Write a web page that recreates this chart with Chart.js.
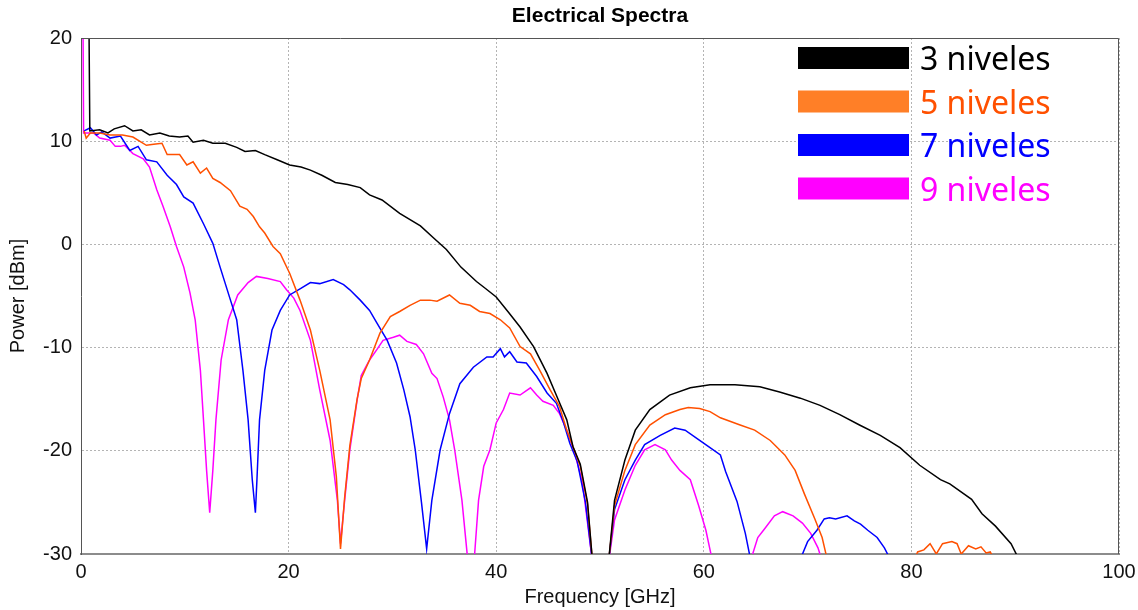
<!DOCTYPE html>
<html>
<head>
<meta charset="utf-8">
<title>Electrical Spectra</title>
<script src="https://cdn.jsdelivr.net/npm/chart.js@4.4.1/dist/chart.umd.min.js"></script>
<style>
  html, body { margin: 0; padding: 0; background: #fff; }
  #wrap { width: 1138px; height: 610px; }
</style>
</head>
<body>
<div id="wrap"><canvas id="spectraChart" width="1138" height="610"></canvas></div>
<script>
// Series names (legend)
const seriesNames = ["3 niveles", "5 niveles", "7 niveles", "9 niveles"];

// 3 niveles: frequency [GHz] / power [dBm]
const f3 = [0.7, 0.85, 1.8, 2.6, 3.2, 4.2, 5.0, 5.8, 6.6, 7.6, 8.5, 9.5, 10.3, 10.8, 11.8, 12.7, 13.9, 15.0, 15.8, 16.8,
  17.7, 18.9, 20.1, 21.2, 22.1, 23.2, 24.5, 25.7, 26.9, 27.8, 29.0, 30.7, 32.7, 34.0, 35.2, 36.6, 38.1, 39.0, 40.0, 41.2,
  42.3, 43.6, 44.9, 46.0, 46.8, 47.4, 48.1, 48.8, 49.3, 50.8, 51.4, 52.4, 53.4, 54.8, 56.7, 58.7, 60.6, 63.0, 65.4, 67.3,
  69.3, 71.2, 73.1, 75.0, 77.0, 78.9, 80.8, 82.8, 83.7, 85.8, 86.8, 88.1, 89.6, 90.6];
const p3 = [30, 11.0, 11.1, 10.8, 11.2, 11.5, 11.0, 11.1, 10.6, 10.8, 10.5, 10.4, 10.5, 9.9, 10.1, 9.8, 9.8, 9.4, 9.0, 9.1,
  8.7, 8.2, 7.7, 7.5, 7.2, 6.7, 6.0, 5.8, 5.5, 4.8, 4.3, 3.0, 1.8, 0.6, -0.5, -2.2, -3.6, -4.3, -5.1, -6.6,
  -8.0, -9.9, -12.5, -15.1, -17.0, -19.6, -21.3, -25.0, -31, -31, -24.8, -20.9, -18.0, -16.0, -14.6, -13.9, -13.6, -13.6, -13.8, -14.3,
  -14.9, -15.6, -16.5, -17.5, -18.5, -19.7, -21.4, -22.8, -23.2, -24.7, -26.1, -27.3, -29.0, -31];

// 5 niveles
const f5 = [0.3, 0.5, 0.9, 1.8, 2.8, 4.0, 5.0, 6.3, 7.0, 7.8, 8.3, 9.5, 10.2, 10.8, 11.5, 12.1, 12.7, 13.4, 14.4, 15.3,
  16.0, 16.6, 17.2, 17.7, 18.5, 19.2, 20.1, 21.1, 22.1, 23.0, 24.0, 24.6, 25.0, 25.4, 25.9, 26.6, 27.0, 27.8, 28.8, 29.8,
  30.7, 31.7, 32.7, 33.6, 34.3, 35.5, 36.5, 37.5, 38.4, 39.4, 40.4, 41.3, 42.3, 43.3, 44.2, 45.2, 46.1, 46.8, 47.4, 48.1,
  48.8, 49.3, 50.8, 51.4, 52.4, 53.4, 54.8, 56.3, 57.7, 58.5, 59.6, 60.6, 61.6, 63.5, 64.9, 66.4, 67.8, 68.8, 69.7, 70.7,
  71.4, 72.0, 80.1, 80.6, 81.2, 81.8, 82.4, 83.0, 83.9, 84.4, 84.8, 85.5, 86.2, 86.7, 87.2, 87.6, 88.2];
const p5 = [11.0, 10.3, 10.8, 10.8, 10.6, 10.6, 10.4, 9.6, 9.7, 9.8, 8.7, 8.7, 7.7, 8.0, 6.9, 7.4, 6.4, 6.0, 5.2, 3.7,
  3.4, 2.7, 1.7, 1.1, -0.2, -0.9, -2.8, -5.4, -8.3, -12.2, -17.0, -22.5, -29.5, -24.5, -19.5, -15.0, -13.0, -11.2, -8.6, -7.0,
  -6.5, -5.9, -5.4, -5.4, -5.5, -4.9, -5.7, -5.9, -6.5, -6.7, -7.3, -8.1, -9.9, -10.6, -12.2, -14.1, -15.7, -18.0, -19.6, -21.5,
  -25.2, -31, -31, -25.3, -21.9, -19.4, -17.5, -16.5, -16.0, -15.8, -15.9, -16.2, -16.8, -17.5, -18.0, -19.0, -20.4, -21.9, -24.2, -26.6,
  -28.4, -31, -31, -29.8, -29.6, -29.0, -30.0, -29.0, -28.8, -29.0, -30.0, -29.2, -29.5, -29.3, -29.9, -29.8, -31];

// 7 niveles
const f7 = [0.3, 0.9, 1.5, 2.0, 2.8, 3.8, 4.7, 5.5, 6.3, 7.3, 8.3, 9.2, 9.9, 10.8, 11.8, 12.7, 13.4, 14.4, 15.0, 15.6,
  16.1, 16.5, 16.8, 16.95, 17.2, 17.7, 18.4, 19.2, 20.1, 21.1, 22.1, 23.0, 24.3, 25.3, 25.9, 26.9, 27.8, 28.5, 29.5, 30.4,
  31.1, 31.7, 32.2, 32.8, 33.3, 33.8, 34.6, 35.5, 36.5, 37.8, 39.1, 39.7, 40.4, 40.8, 41.3, 42.0, 42.9, 43.9, 44.9, 45.8,
  46.5, 47.1, 47.8, 48.6, 49.3, 50.8, 51.4, 52.4, 53.4, 54.3, 55.8, 57.2, 58.2, 59.6, 60.6, 61.6, 62.1, 63.2, 64.0, 64.6,
  69.1, 70.0, 70.9, 71.6, 72.1, 72.7, 73.8, 74.5, 75.1, 75.8, 76.7, 77.4, 78.2];
const p7 = [11.0, 11.3, 10.6, 10.9, 10.3, 10.5, 9.1, 9.5, 8.2, 8.0, 6.7, 5.8, 4.6, 4.0, 2.0, 0.1, -2.2, -5.4, -7.3, -12.2,
  -17.0, -22.8, -26.0, -22.8, -17.0, -12.2, -8.3, -6.4, -4.9, -4.3, -3.7, -3.8, -3.4, -3.9, -4.4, -5.4, -6.4, -7.6, -9.3, -11.5,
  -14.1, -16.7, -19.9, -25.0, -29.5, -24.8, -19.9, -16.4, -13.5, -11.9, -10.9, -10.9, -10.1, -10.9, -10.4, -11.4, -11.5, -12.8, -14.4, -15.4,
  -17.3, -19.3, -21.0, -25.0, -31, -31, -25.7, -22.8, -20.9, -19.4, -18.5, -17.8, -18.0, -19.0, -19.7, -20.4, -22.0, -24.9, -28.0, -31,
  -31, -28.8, -27.7, -26.6, -26.5, -26.6, -26.3, -26.8, -27.1, -27.7, -28.4, -29.4, -31];

// 9 niveles
const f9 = [0.15, 0.25, 1.2, 1.8, 2.8, 3.3, 3.8, 4.2, 5.0, 6.0, 6.6, 7.3, 7.9, 8.6, 9.2, 9.9, 10.5, 11.0, 11.5, 11.8,
  12.1, 12.4, 12.7, 13.0, 13.5, 14.2, 15.1, 16.1, 16.9, 18.0, 19.2, 19.8, 20.5, 21.1, 22.1, 23.0, 24.0, 24.7, 25.0, 25.4,
  25.9, 26.6, 27.0, 27.8, 28.5, 29.1, 30.1, 30.7, 31.4, 32.3, 33.0, 33.8, 34.3, 34.9, 35.5, 36.0, 36.7, 37.3, 37.85, 38.3,
  38.8, 39.4, 40.0, 40.7, 41.3, 42.3, 43.3, 43.9, 44.5, 45.5, 46.1, 46.8, 47.5, 48.3, 49.3, 50.8, 51.4, 52.4, 53.4, 54.3,
  55.3, 56.3, 56.9, 57.7, 58.7, 59.5, 60.2, 60.9, 64.4, 65.2, 65.9, 66.8, 67.6, 68.6, 69.5, 70.3, 71.0, 71.5];
const p9 = [30, 10.8, 10.8, 10.3, 10.1, 9.5, 9.5, 9.6, 8.8, 8.3, 7.5, 5.3, 3.7, 1.7, -0.2, -2.2, -4.7, -7.3, -12.2, -17.0,
  -21.9, -26.0, -21.9, -17.0, -11.2, -7.3, -4.9, -3.7, -3.1, -3.3, -3.6, -4.4, -5.2, -6.4, -9.3, -14.1, -19.0, -24.8, -29.0, -24.8,
  -19.9, -15.1, -12.7, -11.2, -10.2, -9.3, -9.0, -8.8, -9.4, -9.7, -10.6, -12.5, -13.0, -14.8, -17.0, -19.9, -24.8, -31, -31, -24.8,
  -21.5, -19.9, -17.3, -16.0, -14.4, -14.6, -13.9, -14.6, -15.2, -15.6, -16.4, -18.0, -20.0, -23.0, -31, -31, -26.7, -23.8, -21.4, -19.9,
  -19.4, -19.9, -20.9, -21.9, -22.8, -25.3, -27.7, -31, -31, -28.4, -27.5, -26.3, -25.9, -26.3, -27.0, -28.0, -29.4, -31];

// Axis ticks
const xTicks = [0, 20, 40, 60, 80, 100];
const yTicks = [-30, -20, -10, 0, 10, 20];

const lineColors = ["#000000", "#ff5000", "#0000ff", "#ff00ff"];
const keyColors = ["#000000", "#ff7f27", "#0000ff", "#ff00ff"];

const toPoints = (xs, ys) => xs.map((x, i) => ({ x: x, y: ys[i] }));
const seriesData = [toPoints(f3, p3), toPoints(f5, p5), toPoints(f7, p7), toPoints(f9, p9)];

// Legend drawn inside the plot area, top right
const keyPlugin = {
  id: 'key',
  afterDraw(chart) {
    const ctx = chart.ctx;
    ctx.save();
    ctx.font = '32px "Noto Sans"';
    ctx.textAlign = 'left';
    ctx.textBaseline = 'alphabetic';
    seriesNames.forEach((name, i) => {
      const top = 47 + i * 43.5;
      ctx.fillStyle = keyColors[i];
      ctx.fillRect(798, top, 111, 22);
      ctx.fillStyle = i === 1 ? lineColors[1] : keyColors[i];
      ctx.fillText(name, 920, top + 23);
    });
    ctx.restore();
  }
};

// Top and right border of the plot area
const framePlugin = {
  id: 'frame',
  afterDatasetsDraw(chart) {
    const { ctx, chartArea: a } = chart;
    ctx.save();
    ctx.strokeStyle = '#555';
    ctx.lineWidth = 1;
    ctx.beginPath();
    ctx.moveTo(a.left, a.top + 0.5);
    ctx.lineTo(a.right - 0.5, a.top + 0.5);
    ctx.lineTo(a.right - 0.5, a.bottom);
    ctx.stroke();
    ctx.restore();
  }
};

const ctx = document.getElementById('spectraChart').getContext('2d');
new Chart(ctx, {
  type: 'line',
  data: {
    datasets: seriesNames.map((name, i) => ({
      label: name,
      data: seriesData[i],
      borderColor: lineColors[i],
      borderWidth: 1.5,
      pointRadius: 0,
      tension: 0,
      fill: false
    }))
  },
  options: {
    responsive: false,
    animation: false,
    layout: { padding: { left: 0, right: 19, top: 0, bottom: 0 } },
    plugins: {
      legend: { display: false },
      tooltip: { enabled: false },
      title: {
        display: true,
        text: 'Electrical Spectra',
        fullSize: false,
        color: '#000',
        font: { family: '"Liberation Sans", Arial, sans-serif', size: 21, weight: 'bold' },
        padding: { top: 4, bottom: 8.8 }
      }
    },
    scales: {
      x: {
        type: 'linear',
        min: 0,
        max: 100,
        afterBuildTicks: (scale) => { scale.ticks = xTicks.map(v => ({ value: v })); },
        afterFit: (scale) => {
          scale.height = 56;
          scale.paddingLeft = 0;
          scale.paddingRight = 0;
        },
        ticks: {
          color: '#111',
          padding: 6,
          maxRotation: 0,
          font: { family: '"Liberation Sans", Arial, sans-serif', size: 20 }
        },
        grid: { color: '#b4b4b4', drawTicks: false },
        border: { color: '#8c8c8c', width: 2, dash: [2, 2] },
        title: {
          display: true,
          text: 'Frequency [GHz]',
          color: '#111',
          font: { family: '"Liberation Sans", Arial, sans-serif', size: 20 },
          padding: { top: 0, bottom: 1 }
        }
      },
      y: {
        type: 'linear',
        min: -30,
        max: 20,
        afterBuildTicks: (scale) => { scale.ticks = yTicks.map(v => ({ value: v })); },
        afterFit: (scale) => { scale.width = 81; },
        ticks: {
          color: '#111',
          padding: 9,
          font: { family: '"Liberation Sans", Arial, sans-serif', size: 20 }
        },
        grid: { color: '#b4b4b4', drawTicks: false },
        border: { color: '#555', width: 1, dash: [2, 2] },
        title: {
          display: true,
          text: 'Power [dBm]',
          color: '#111',
          font: { family: '"Liberation Sans", Arial, sans-serif', size: 20 },
          padding: { top: 6, bottom: 0 }
        }
      }
    }
  },
  plugins: [framePlugin, keyPlugin]
});
</script>
</body>
</html>
